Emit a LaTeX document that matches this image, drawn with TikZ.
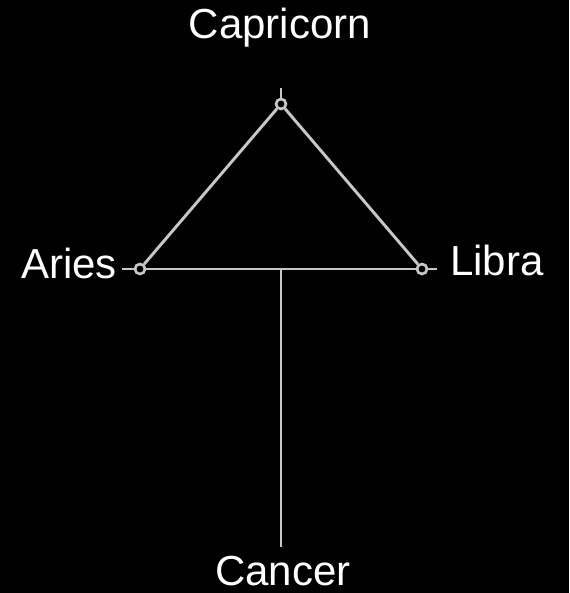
\documentclass[tikz,border=0pt]{standalone}
\usepackage{fontspec}
\setmainfont{Liberation Sans}
\usetikzlibrary{positioning, calc}

\begin{document}
\begin{tikzpicture}[
    x=0.75pt, y=-0.75pt,
    wire/.style={draw=black!22, line width=2.2pt},
    joint/.style={circle, draw=black!22, line width=2pt, fill=black,
                  minimum size=7.5pt, inner sep=0pt},
    sign/.style={text=white, font=\fontsize{31.5}{36}\selectfont,
                 inner sep=0pt, anchor=base}
  ]
  \fill[black] (0,0) rectangle (569,593);
  \useasboundingbox (0,0) rectangle (569,593);

  % signs
  \node[sign] (capricorn) at (280,38) {Capricorn};
  \node[sign] (aries) at (69,278) {Aries};
  \node[sign] (libra) at (497,275) {Libra};
  \node[sign] (cancer) at (283,585) {Cancer};

  % triangle
  \coordinate (mid) at (281,269);
  \coordinate (foot) at (281,547);
  \coordinate (captip) at (281,88);
  \coordinate (aritip) at (122,269);
  \coordinate (libtip) at (437,269);
  \node[joint] (cap) at (281,104) {};
  \node[joint] (ari) at (140,269) {};
  \node[joint] (lib) at (422,269) {};

  \draw[wire] (cap) -- (ari);
  \draw[wire] (cap) -- (lib);
  \draw[wire] (ari) -- (lib);
  \draw[wire] (mid) -- (foot);
  \draw[wire] (cap) -- (captip);
  \draw[wire] (ari) -- (aritip);
  \draw[wire] (lib) -- (libtip);
\end{tikzpicture}
\end{document}
